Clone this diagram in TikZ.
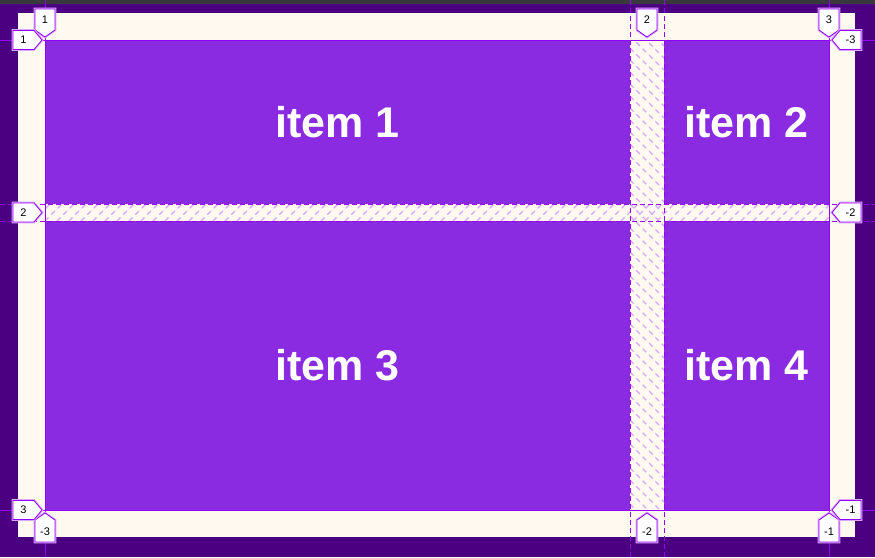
\documentclass[tikz,border=0pt]{standalone}
\usepackage{fontspec}
\setmainfont{Liberation Sans}
\definecolor{topbar}{HTML}{38383D}
\definecolor{bgindigo}{HTML}{4B0082}
\definecolor{cream}{HTML}{FFF9EF}
\definecolor{itemviolet}{HTML}{8A2BE2}
\definecolor{gridline}{HTML}{9400FF}
\definecolor{hatchcol}{HTML}{D9A6FF}
\begin{document}
\begin{tikzpicture}[x=1pt,y=-1pt,
  item/.style={draw=none, fill=itemviolet, inner sep=0pt, text=white,
    font=\fontsize{43}{43}\selectfont\bfseries},
  lblshape/.style={draw=gridline, fill=white, line width=0.8pt, line join=round,
    preaction={draw=gridline!35, line width=2.6pt}},
  lbltext/.style={inner sep=0pt, text=black, font=\fontsize{11}{11}\selectfont},
  solidline/.style={draw=gridline, line width=0.8pt},
  dashline/.style={draw=gridline, line width=0.8pt, dash pattern=on 5pt off 3pt},
  hatchline/.style={draw=hatchcol, line width=1.3pt, dash pattern=on 5pt off 4pt}]
\useasboundingbox (0,0) rectangle (875,557);
% backgrounds
\fill[topbar] (0,0) rectangle (875,4);
\fill[bgindigo] (0,4) rectangle (875,557);
\fill[cream] (18,13) rectangle (855,537);
% gap hatching
\begin{scope}
  \clip (630,40) rectangle (664,510);
  \foreach \i in {-48,-36,...,520} \draw[hatchline] (630,\i) -- (664,\i+34);
\end{scope}
\begin{scope}
  \clip (45,204) rectangle (829,221);
  \foreach \i in {21,33,...,840} \draw[hatchline] (\i,221) -- (\i+17,204);
\end{scope}
% items
\node[item, minimum width=585pt, minimum height=164pt] (it1) at (337.5,122) {item 1};
\node[item, minimum width=165pt, minimum height=164pt] (it2) at (746.5,122) {item 2};
\node[item, minimum width=585pt, minimum height=289pt] (it3) at (337.5,365.5) {item 3};
\node[item, minimum width=165pt, minimum height=289pt] (it4) at (746.5,365.5) {item 4};
% grid lines
\draw[solidline] (45,0) -- (45,557);
\draw[solidline] (829,0) -- (829,557);
\draw[solidline] (0,40) -- (875,40);
\draw[solidline] (0,510) -- (875,510);
\draw[dashline] (630,0) -- (630,557);
\draw[dashline] (664,0) -- (664,557);
\draw[dashline] (0,204) -- (875,204);
\draw[dashline] (0,221) -- (875,221);
% labels: top (tip pointing down)
\foreach \x/\t/\n in {45/1/lt1, 647/2/lt2, 829/3/lt3}{
  \draw[lblshape] (\x-10,9) -- (\x+10,9) -- (\x+10,30) -- (\x,37) -- (\x-10,30) -- cycle;
  \node[lbltext] (\n) at (\x,19.5) {\t};
}
% labels: bottom (tip pointing up)
\foreach \x/\t/\n in {45/-3/lb1, 647/-2/lb2, 829/-1/lb3}{
  \draw[lblshape] (\x,513) -- (\x+10,520) -- (\x+10,542) -- (\x-10,542) -- (\x-10,520) -- cycle;
  \node[lbltext] (\n) at (\x,531.5) {\t};
}
% labels: left (tip pointing right)
\foreach \y/\t/\n in {40/1/ll1, 212.5/2/ll2, 510/3/ll3}{
  \draw[lblshape] (13,\y-9.5) -- (34,\y-9.5) -- (42,\y) -- (34,\y+9.5) -- (13,\y+9.5) -- cycle;
  \node[lbltext] (\n) at (23.5,\y) {\t};
}
% labels: right (tip pointing left)
\foreach \y/\t/\n in {40/-3/lr1, 212.5/-2/lr2, 510/-1/lr3}{
  \draw[lblshape] (832,\y) -- (840,\y-9.5) -- (861,\y-9.5) -- (861,\y+9.5) -- (840,\y+9.5) -- cycle;
  \node[lbltext] (\n) at (850.5,\y) {\t};
}
\end{tikzpicture}
\end{document}
